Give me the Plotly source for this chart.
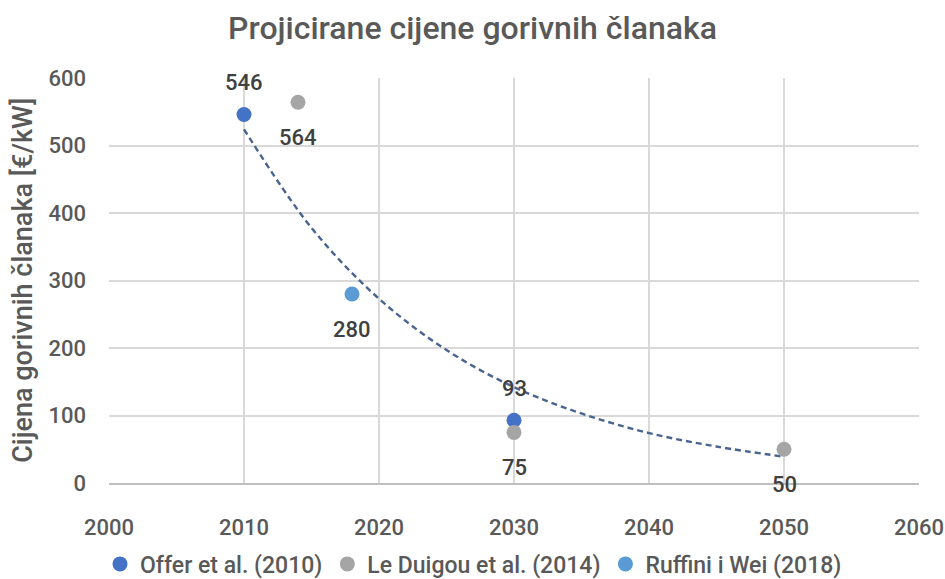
import plotly.graph_objects as go

# Data
offer_x = [2010, 2030]
offer_y = [546, 93]
duigou_x = [2014, 2030, 2050]
duigou_y = [564, 75, 50]
ruffini_x = [2018]
ruffini_y = [280]
trend_x = [2010, 2015, 2020, 2025, 2030, 2035, 2040, 2045, 2050]
trend_y = [524, 378, 273, 197, 142, 103, 74, 54, 39]

FONT = "Roboto"
TXT = "#404040"
GREY = "#595959"

fig = go.Figure()
fig.add_trace(go.Scatter(x=trend_x, y=trend_y, mode="lines",
                         line=dict(color="#4A6491", width=2.4, dash="6px,4px", shape="spline"),
                         showlegend=False, hoverinfo="skip"))
fig.add_trace(go.Scatter(x=offer_x, y=offer_y, mode="markers", name="Offer et al. (2010)",
                         marker=dict(color="#4472C4", size=15)))
fig.add_trace(go.Scatter(x=duigou_x, y=duigou_y, mode="markers", name="Le Duigou et al. (2014)",
                         marker=dict(color="#A5A5A5", size=15)))
fig.add_trace(go.Scatter(x=ruffini_x, y=ruffini_y, mode="markers", name="Ruffini i Wei (2018)",
                         marker=dict(color="#5B9BD5", size=15)))

lab_font = dict(size=22, color=TXT, family=FONT, weight=500)
ann = []
for x, y in zip(offer_x, offer_y):
    ann.append(dict(x=x, y=y, text=str(y), showarrow=False, yshift=32, font=lab_font))
for x, y in zip(duigou_x, duigou_y):
    ann.append(dict(x=x, y=y, text=str(y), showarrow=False, yshift=-35, font=lab_font))
for x, y in zip(ruffini_x, ruffini_y):
    ann.append(dict(x=x, y=y, text=str(y), showarrow=False, yshift=-35, font=lab_font))
ann.append(dict(xref="paper", yref="paper", x=-0.107, y=0.5, xanchor="center", yanchor="middle",
                text="Cijena gorivnih članaka [€/kW]", textangle=-90, showarrow=False,
                font=dict(size=27, color=GREY, family=FONT, weight=500)))

tick_font = dict(size=22, color=GREY, family=FONT, weight=500)
fig.update_layout(
    width=945, height=579,
    margin=dict(l=109, r=26, t=78, b=96),
    paper_bgcolor="white", plot_bgcolor="white",
    font=dict(family=FONT, color=GREY),
    title=dict(text="Projicirane cijene gorivnih članaka", x=0.5, xanchor="center", y=0.952, yanchor="middle",
               font=dict(size=32, color=GREY, family=FONT, weight=500)),
    xaxis=dict(range=[2000, 2060], dtick=10, tick0=2000, showgrid=True, gridcolor="#D9D9D9", gridwidth=1.5,
               showline=True, linecolor="#BFBFBF", linewidth=1.5, zeroline=False, ticks="",
               tickfont=tick_font, automargin=False, ticklabelstandoff=24),
    yaxis=dict(range=[0, 600], dtick=100, showgrid=True, gridcolor="#D9D9D9", gridwidth=1.5, zeroline=False, ticks="",
               tickfont=tick_font, automargin=False, ticklabelstandoff=22),
    legend=dict(orientation="h", x=0.45, xanchor="center", yref="container", y=0.026, yanchor="middle",
                font=dict(size=23, color=GREY, family=FONT, weight=500), itemwidth=30, tracegroupgap=0),
    annotations=ann,
)

fig.write_html("out.html", post_script="document.body.style.margin='0';",
               config={"displayModeBar": False})
